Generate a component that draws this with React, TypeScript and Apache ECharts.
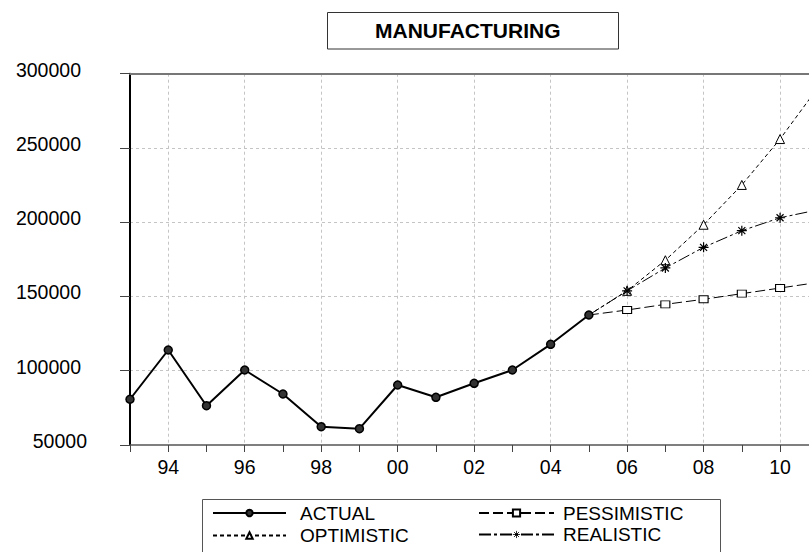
import React, { useEffect, useRef } from 'react';
import * as echarts from 'echarts';

const TITLE = 'MANUFACTURING';
const YEARS = ['1993', '1994', '1995', '1996', '1997', '1998', '1999', '2000', '2001', '2002', '2003', '2004', '2005', '2006', '2007', '2008', '2009', '2010', '2011'];
const ACTUAL = [80800, 113960, 76460, 100500, 84340, 62320, 60980, 90400, 82120, 91540, 100500, 117800, 137530, null, null, null, null, null, null];
const PESSIMISTIC = [null, null, null, null, null, null, null, null, null, null, null, null, 137530, 140900, 144700, 148100, 151900, 155700, 159500];
const OPTIMISTIC = [null, null, null, null, null, null, null, null, null, null, null, null, 137530, 153800, 174400, 198300, 225100, 256000, 291000];
const REALISTIC = [null, null, null, null, null, null, null, null, null, null, null, null, 137530, 153800, 169200, 183100, 194300, 203000, 208400];
const FORECAST_START = 12;
const Y_MIN = 50000;
const Y_MAX = 300000;
const Y_STEP = 50000;

const FONT = '"Liberation Sans", Arial, sans-serif';
const STAR = 'path://M5,0L5,10M0,5L10,5M1.5,1.5L8.5,8.5M8.5,1.5L1.5,8.5';

export default function App() {
  const ref = useRef<HTMLDivElement>(null);
  useEffect(() => {
    const chart = echarts.init(ref.current!, null, { renderer: 'svg' });
    const forecast = (arr: (number | null)[]) =>
      arr.map((v, i) => (i === FORECAST_START ? { value: v, symbol: 'none' } : v));
    const legendText = { fontFamily: FONT, fontSize: 19, color: '#000', lineHeight: 20 };
    chart.setOption({
      animation: false,
      backgroundColor: '#fff',
      title: {
        text: TITLE,
        left: 375,
        top: 20,
        padding: 0,
        textStyle: { fontFamily: FONT, fontSize: 21, fontWeight: 'bold', color: '#000' },
      },
      graphic: [
        { type: 'rect', shape: { x: 327.5, y: 12.5, width: 291, height: 36.5 }, style: { fill: 'none', stroke: '#333', lineWidth: 1 } },
        { type: 'rect', shape: { x: 202.5, y: 499.5, width: 518, height: 60 }, style: { fill: 'none', stroke: '#555', lineWidth: 1 } },
      ],
      legend: [
        {
          data: ['ACTUAL', 'OPTIMISTIC'],
          orient: 'vertical',
          left: 212,
          top: 503,
          itemWidth: 73,
          itemHeight: 8,
          itemGap: 2.5,
          padding: 0,
          selectedMode: false,
          textStyle: { ...legendText, padding: [0, 0, 0, 9] },
        },
        {
          data: ['PESSIMISTIC', { name: 'REALISTIC', itemStyle: { borderWidth: 0.8 } }],
          orient: 'vertical',
          left: 478,
          top: 503,
          itemWidth: 75,
          itemHeight: 9,
          itemGap: 1.5,
          padding: 0,
          selectedMode: false,
          textStyle: { ...legendText, padding: [0, 0, 0, 4] },
        },
      ],
      grid: { left: 130, top: 73.7, width: 688.3, height: 371.3, containLabel: false, outerBoundsMode: 'none' },
      xAxis: [
        {
          type: 'category',
          data: YEARS,
          boundaryGap: false,
          axisLine: { onZero: false, lineStyle: { color: '#555', width: 1.5 } },
          axisTick: { interval: 0, length: 7, lineStyle: { color: '#444' } },
          axisLabel: {
            interval: (i: number) => i % 2 === 1,
            formatter: (v: string) => v.slice(2),
            margin: 12,
            fontSize: 19.5,
            fontFamily: FONT,
            color: '#000',
          },
          splitLine: {
            show: true,
            interval: (i: number) => i % 2 === 1,
            lineStyle: { color: '#c4c4c4', type: [3, 3], width: 1 },
          },
        },
        {
          type: 'category',
          data: YEARS,
          boundaryGap: false,
          position: 'top',
          axisLine: { onZero: false, lineStyle: { color: '#777', width: 2 } },
          axisTick: { show: false },
          axisLabel: { show: false },
          splitLine: { show: false },
        },
      ],
      yAxis: {
        type: 'value',
        min: Y_MIN,
        max: Y_MAX,
        interval: Y_STEP,
        axisLine: { show: true, onZero: false, lineStyle: { color: '#000', width: 2 } },
        axisTick: { show: true, length: 10, lineStyle: { color: '#444' } },
        axisLabel: {
          margin: 43,
          fontSize: 19.5,
          fontFamily: FONT,
          color: '#000',
          align: 'right',
          padding: [0, 0, 8, 0],
          formatter: (v: number) => (v === Y_MIN ? '{a|' + v + '}' : '{b|' + v + '}'),
          rich: {
            a: { fontSize: 19.5, fontFamily: FONT, color: '#000' },
            b: { fontSize: 19.5, fontFamily: FONT, color: '#000', padding: [0, 6, 0, 0] },
          },
        },
        splitLine: {
          show: true,
          showMinLine: false,
          showMaxLine: false,
          lineStyle: { color: '#c4c4c4', type: [3, 3], width: 1 },
        },
      },
      series: [
        {
          name: 'PESSIMISTIC',
          type: 'line',
          data: forecast(PESSIMISTIC),
          symbol: 'rect',
          symbolSize: [9, 7],
          lineStyle: { color: '#000', width: 1, type: [10, 4] },
          itemStyle: { color: '#fff', borderColor: '#000', borderWidth: 1 },
          emphasis: { disabled: true },
          z: 2,
        },
        {
          name: 'OPTIMISTIC',
          type: 'line',
          data: forecast(OPTIMISTIC),
          symbol: 'triangle',
          symbolSize: 9,
          lineStyle: { color: '#000', width: 1, type: [4, 3] },
          itemStyle: { color: '#fff', borderColor: '#000', borderWidth: 1 },
          emphasis: { disabled: true },
          z: 2,
        },
        {
          name: 'REALISTIC',
          type: 'line',
          data: forecast(REALISTIC),
          symbol: STAR,
          symbolSize: 10,
          lineStyle: { color: '#000', width: 1, type: [12, 3, 3, 3] },
          itemStyle: { color: '#000', borderColor: '#000', borderWidth: 1.2 },
          emphasis: { disabled: true },
          z: 3,
        },
        {
          name: 'ACTUAL',
          type: 'line',
          data: ACTUAL,
          symbol: 'circle',
          symbolSize: 8,
          lineStyle: { color: '#000', width: 2 },
          itemStyle: { color: '#333', borderColor: '#000', borderWidth: 1.5 },
          emphasis: { disabled: true },
          z: 5,
        },
      ],
    });
    return () => chart.dispose();
  }, []);
  return <div ref={ref} style={{ position: 'fixed', left: 0, top: 0, width: 809, height: 552 }} />;
}
